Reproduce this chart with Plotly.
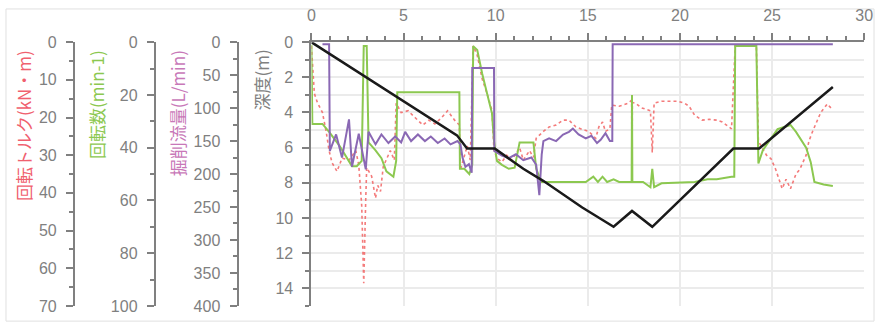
import plotly.graph_objects as go

# ---------------- data ----------------
depth_t = [0, 7.9, 8.45, 9.95, 11.5, 12.6, 14.7, 16.4, 17.4, 18.5, 22.9, 24.3, 28.3]
depth_m = [0, 5.3, 6.05, 6.05, 7.2, 7.9, 9.4, 10.5, 9.6, 10.5, 6.05, 6.05, 2.55]

torque_t = [0, 0.16, 0.32, 0.6, 0.8, 0.96, 1.12, 1.39, 1.66, 2.04,
            2.41, 2.57, 2.73, 2.84, 2.95, 3.0, 3.27, 3.48, 3.6, 3.75,
            3.9, 4.28, 4.5, 4.6, 4.87, 5.25, 5.62, 6.05, 6.37, 6.7,
            7.07, 7.39, 7.77, 8.03, 8.09, 8.36, 8.46, 8.62, 8.78, 9.0,
            9.27, 9.53, 9.8, 9.91, 10.07, 10.34, 10.6, 10.87, 11.14, 11.3,
            11.5, 11.84, 12.05, 12.2, 12.59, 12.9, 13.28, 13.66, 13.98, 14.35,
            14.73, 15.05, 15.43, 15.6, 15.8, 15.96, 16.2, 16.3, 16.7, 17.2,
            17.38, 17.4, 17.42, 17.6, 17.9, 18.4, 18.5, 18.6, 19.0, 19.45,
            19.9, 20.25, 20.5, 20.8, 21.2, 21.6, 22.0, 22.3, 22.65, 22.8,
            23.0, 24.15, 24.26, 24.7, 24.95, 25.2, 25.55, 25.76, 26.0, 26.3,
            26.5, 26.85, 27.0, 27.2, 27.64, 28.0, 28.3]
torque_v = [1, 13.6, 16, 18.7, 23.7, 28.8, 32, 34.3, 30.8, 31.3,
            28.8, 32.6, 43.4, 64, 41.4, 33.3, 35.6, 41.4, 38, 39.6,
            33, 28.8, 31.3, 16.2, 18.7, 18.2, 20, 22, 20.7, 21.7,
            20, 18.2, 20.7, 22, 33.8, 28.8, 27.5, 31.3, 1, 3.5,
            9.8, 13.6, 18.2, 28.8, 30.8, 31.8, 30, 31.3, 29.3, 28,
            31.3, 28.8, 30.6, 25.5, 23.7, 22.5, 22, 20.7, 20.7, 22.5,
            23.2, 23.7, 25.5, 22.5, 21.2, 23.7, 23, 16.7, 17, 16.2,
            15.4, 33, 16, 16.2, 17.4, 18.2, 29.3, 16.2, 15.7, 15.7,
            15.7, 16.2, 17, 19.4, 20.7, 20.5, 20.7, 21.2, 22.5, 23,
            1, 1, 26.3, 30, 31, 33.8, 38.9, 36.4, 38.9, 35,
            33.8, 30, 26.3, 23.7, 18.7, 16.4, 18]

rot_t = [0, 0.05, 0.6, 0.96, 1.5, 1.87, 2.2, 2.46, 2.73, 2.84,
         3.0, 3.1, 3.48, 3.8, 4.07, 4.45, 4.6, 4.66, 8.03, 8.06,
         8.3, 8.57, 8.73, 8.78, 9.0, 9.27, 9.53, 9.8, 9.91, 10.07,
         10.34, 10.71, 11.03, 11.3, 12.05, 12.2, 12.48, 14.89, 15.3, 15.55,
         15.8, 16.05, 16.4, 16.7, 17.38, 17.4, 17.42, 18.0, 18.4, 18.5,
         18.6, 19.0, 20.8, 21.5, 22.0, 22.8, 22.95, 23.0, 24.15, 24.26,
         24.5, 25.3, 26.0, 26.3, 26.85, 27.1, 27.3, 27.8, 28.3]
rot_v = [1, 31, 31, 34, 39, 43, 47, 47, 45, 1.5,
         1.5, 38, 41, 44, 49, 51, 45, 19, 19, 48,
         48, 50, 46.5, 1.5, 3, 12, 19.5, 27, 37.5, 45,
         46.5, 48, 47.6, 38, 38, 48, 53, 53, 51, 53,
         51, 53, 52, 53, 53, 20, 53, 53, 55, 48,
         55, 53.5, 53, 52, 52, 51, 51, 1.5, 1.5, 46,
         41, 33, 31.4, 34, 40, 45.5, 53, 54, 54.5]

flow_t = [0.6, 0.96, 1.0, 1.34, 1.66, 2.04, 2.2, 2.57, 2.95, 3.1,
          3.48, 3.8, 4.18, 4.55, 4.87, 5.09, 5.41, 5.78, 6.16, 6.48,
          6.86, 7.23, 7.55, 7.93, 8.09, 8.2, 8.36, 8.55, 8.7, 8.73,
          9.91, 9.93, 10.34, 10.71, 11.1, 11.5, 11.94, 12.2, 12.37, 12.5,
          12.59, 12.9, 13.28, 13.66, 13.98, 14.19, 14.5, 14.89, 15.2, 15.5,
          15.7, 15.96, 16.2, 16.33, 16.35, 28.3]
flow_v = [3, 3, 165, 140, 175, 117, 189, 139, 193, 136,
          155, 140, 153, 143, 152, 136, 150, 140, 150, 143,
          153, 146, 155, 150, 155, 175, 189, 185, 198, 39,
          39, 165, 172, 176, 170, 179, 175, 186, 232, 170,
          150, 146, 150, 140, 136, 131, 140, 146, 142, 153,
          148, 138, 150, 150, 3, 3]

x_ticks = [0, 5, 10, 15, 20, 25, 30]
depth_ticks = [0, 2, 4, 6, 8, 10, 12, 14]
torque_ticks = [0, 10, 20, 30, 40, 50, 60, 70]
rot_ticks = [0, 20, 40, 60, 80, 100]
flow_ticks = [0, 50, 100, 150, 200, 250, 300, 350, 400]

title_torque = "回転トルク(kN・m)"
title_rot = "回転数(min-1)"
title_flow = "掘削流量(L/min)"
title_depth = "深度(m)"

# ---------------- layout constants ----------------
W, H = 884, 332
px = lambda v: v / W
py = lambda v: (H - v) / H
DOM_X = [px(312), px(873)]
DOM_Y = [py(314), py(36)]

AX = "#808080"
GRID = "#ebebeb"
TICKFONT = dict(family="Liberation Sans, Arial, sans-serif", size=16, color=AX)
C_RED = "#f26464"
C_GREEN = "#8cc850"
C_PURPLE = "#8a68b4"

fig = go.Figure()
# anchor trace so the main (x, y) depth subplot exists
fig.add_trace(go.Scatter(x=[None], y=[None], yaxis="y", mode="lines",
                         hoverinfo="skip", showlegend=False))
fig.add_trace(go.Scatter(x=torque_t, y=torque_v, yaxis="y2", mode="lines", opacity=0.85,
                         line=dict(color=C_RED, width=1.6, dash="dot"), name=title_torque))
fig.add_trace(go.Scatter(x=rot_t, y=rot_v, yaxis="y3", mode="lines",
                         line=dict(color=C_GREEN, width=2), name=title_rot))
fig.add_trace(go.Scatter(x=flow_t, y=flow_v, yaxis="y4", mode="lines",
                         line=dict(color=C_PURPLE, width=2), name=title_flow))
fig.add_trace(go.Scatter(x=depth_t, y=depth_m, yaxis="y5", mode="lines",
                         line=dict(color="#1a1a1a", width=2.5), name=title_depth))


def side_axis(rng, ticks, pos, minor_dtick):
    return dict(range=rng, tickvals=ticks, anchor="free", overlaying="y", side="left",
                position=pos, showgrid=False, zeroline=False, showline=True,
                linecolor=AX, linewidth=2, ticks="outside", ticklen=7, tickwidth=2,
                tickcolor=AX, tickfont=TICKFONT, ticklabelstandoff=6,
                minor=dict(dtick=minor_dtick, tick0=0, ticks="outside", ticklen=4,
                           tickwidth=2, tickcolor=AX, showgrid=False))


fig.update_layout(
    width=W, height=H, autosize=False,
    margin=dict(l=0, r=0, t=0, b=0),
    paper_bgcolor="white", plot_bgcolor="white",
    showlegend=False,
    xaxis=dict(domain=DOM_X, range=[0, 30], side="top", tickvals=x_ticks,
               showgrid=True, gridcolor=GRID, gridwidth=2, zeroline=False,
               showline=True, linecolor=AX, linewidth=2, ticks="outside",
               ticklen=7, tickwidth=2, tickcolor=AX, tickfont=TICKFONT,
               ticklabelstandoff=6,
               minor=dict(dtick=1, tick0=0, ticks="outside", ticklen=4, tickwidth=2,
                          tickcolor=AX, showgrid=False)),
    yaxis=dict(domain=DOM_Y, range=[15, 0], tickvals=depth_ticks, showgrid=True,
               gridcolor=GRID, gridwidth=2, zeroline=False, showline=True,
               linecolor=AX, linewidth=2, ticks="outside", ticklen=7, tickwidth=2,
               tickcolor=AX, tickfont=TICKFONT, ticklabelstandoff=6,
               minor=dict(dtick=1, tick0=0, ticks="outside", ticklen=4, tickwidth=2,
                          tickcolor=AX, showgrid=True, gridcolor=GRID, gridwidth=2)),
    yaxis2=side_axis([70, 0], torque_ticks, px(71), 5),
    yaxis3=side_axis([100, 0], rot_ticks, px(153), 10),
    yaxis4=side_axis([400, 0], flow_ticks, px(237), 25),
    yaxis5=dict(range=[15, 0], overlaying="y", anchor="x", visible=False),
)

TITLEFONT = "Noto Sans CJK JP, sans-serif"
for text, cx, col in [(title_torque, 20, "#f0606e"), (title_rot, 94, C_GREEN),
                      (title_flow, 176, "#c878b8"), (title_depth, 261, "#808080")]:
    fig.add_annotation(text=text, xref="paper", yref="paper", x=px(cx), y=py(42),
                       xanchor="center", yanchor="top", textangle=-90, showarrow=False,
                       font=dict(family=TITLEFONT, size=17, color=col))

# thin chart-area border
fig.add_shape(type="rect", xref="paper", yref="paper", x0=px(2), x1=px(883), y0=py(330), y1=py(1),
              line=dict(color="#e0e0e0", width=1), layer="below")

fig.write_html("out.html", config=dict(displayModeBar=False),
               post_script="document.body.style.margin='0';document.body.style.overflow='hidden';")
